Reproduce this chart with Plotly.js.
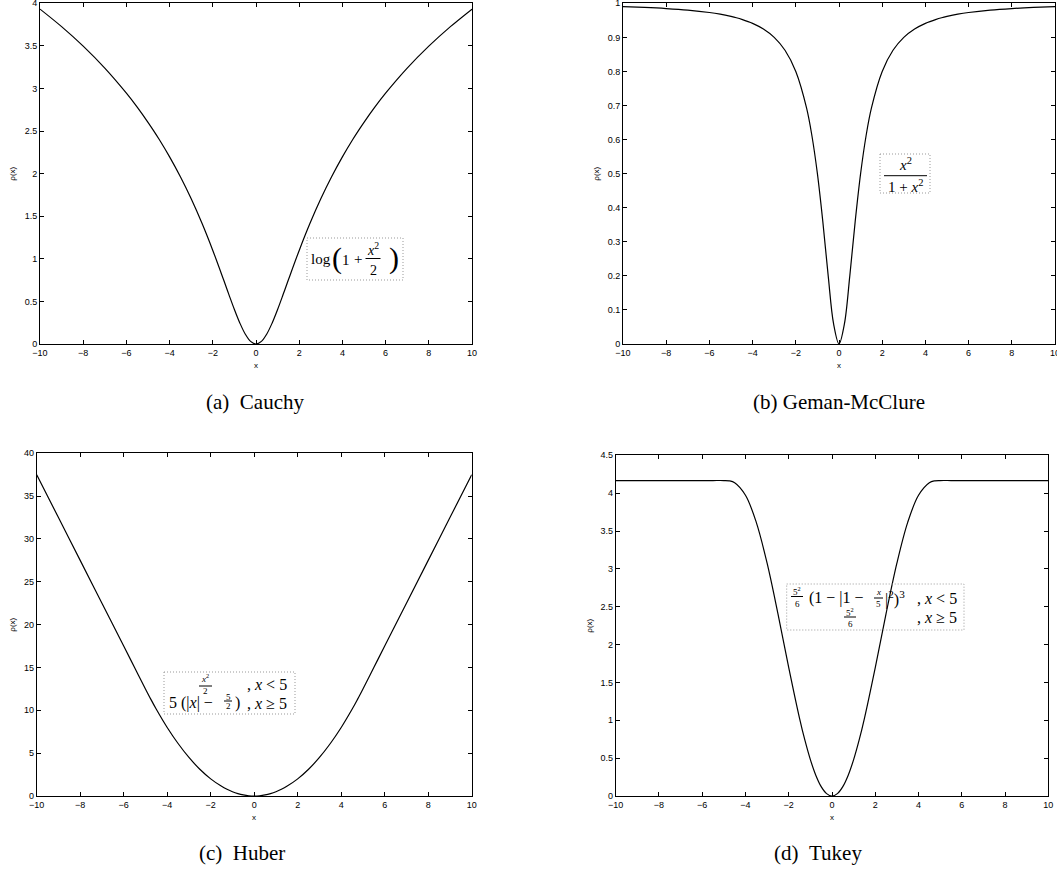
<!DOCTYPE html>
<html>
<head>
<meta charset="utf-8">
<script src="https://cdn.plot.ly/plotly-3.0.1.min.js"></script>
<style>html,body{margin:0;padding:0;background:#fff;}#chart{width:1057px;height:874px;}</style>
</head>
<body>
<div id="chart"></div>
<script>
// ---- data ----
const xGrid = [-10,-9,-8,-7,-6,-5.5,-5,-4.75,-4.5,-4,-3.5,-3,-2.5,-2,-1.5,-1.25,-1,-0.75,-0.5,-0.25,0,
               0.25,0.5,0.75,1,1.25,1.5,2,2.5,3,3.5,4,4.5,4.75,5,5.5,6,7,8,9,10];
const cauchyRho = [3.9318,3.7257,3.4965,3.2387,2.9444,2.7804,2.6027,2.508,2.4092,2.1972,1.9636,1.7047,1.4171,1.0986,0.7538,0.5773,0.4055,0.2478,0.1178,0.0308,0,
                   0.0308,0.1178,0.2478,0.4055,0.5773,0.7538,1.0986,1.4171,1.7047,1.9636,2.1972,2.4092,2.508,2.6027,2.7804,2.9444,3.2387,3.4965,3.7257,3.9318];
const gemanRho = [0.9901,0.9878,0.9846,0.98,0.973,0.968,0.9615,0.9576,0.9529,0.9412,0.9245,0.9,0.8621,0.8,0.6923,0.6098,0.5,0.36,0.2,0.0588,0,
                  0.0588,0.2,0.36,0.5,0.6098,0.6923,0.8,0.8621,0.9,0.9245,0.9412,0.9529,0.9576,0.9615,0.968,0.973,0.98,0.9846,0.9878,0.9901];
const huberRho = [37.5,32.5,27.5,22.5,17.5,15,12.5,11.2813,10.125,8,6.125,4.5,3.125,2,1.125,0.7813,0.5,0.2813,0.125,0.0313,0,
                  0.0313,0.125,0.2813,0.5,0.7813,1.125,2,3.125,4.5,6.125,8,10.125,11.2813,12.5,15,17.5,22.5,27.5,32.5,37.5];
const tukeyRho = [4.1667,4.1667,4.1667,4.1667,4.1667,4.1667,4.1667,4.1628,4.1381,3.9723,3.614,3.0744,2.4089,1.6971,1.0268,0.7334,0.4803,0.275,0.1238,0.0312,0,
                  0.0312,0.1238,0.275,0.4803,0.7334,1.0268,1.6971,2.4089,3.0744,3.614,3.9723,4.1381,4.1628,4.1667,4.1667,4.1667,4.1667,4.1667,4.1667,4.1667];
const xTicks = [-10,-8,-6,-4,-2,0,2,4,6,8,10];
const yRanges = [[0,4],[0,1],[0,40],[0,4.5]];
const yDticks = [0.5,0.1,5,0.5];
const captions = ['(a)\u2002Cauchy','(b) Geman-McClure','(c)\u2002Huber','(d)\u2002Tukey'];
const xTitle = 'x';
const yTitle = '\u03c1(x)';

// ---- layout helpers (pixel -> paper) ----
const W = 1057, H = 874;
const PX = p => p / W;
const PY = p => 1 - p / H;
const serif = '"Liberation Serif", "Times New Roman", serif';
const sans = '"Liberation Sans", Arial, Helvetica, sans-serif';

const annotations = [];
const shapes = [];
function T(px, py, text, size, anchor, family, extra) {
  annotations.push(Object.assign({
    xref: 'paper', yref: 'paper', x: PX(px), y: PY(py), text: text,
    showarrow: false, xanchor: anchor || 'center', yanchor: 'middle',
    font: {family: family || serif, size: size, color: '#000'}
  }, extra || {}));
}
function bar(x0, x1, py) {
  shapes.push({type: 'line', xref: 'paper', yref: 'paper', x0: PX(x0), x1: PX(x1), y0: PY(py), y1: PY(py),
               line: {color: '#000', width: 1}});
}
function box(x0, y0, x1, y1) {
  shapes.push({type: 'rect', xref: 'paper', yref: 'paper', x0: PX(x0), x1: PX(x1), y0: PY(y0), y1: PY(y1),
               line: {color: '#999', width: 1, dash: '1px,2px'}});
}

// panel pixel boxes [left, right, top, bottom]
const panels = [[40, 472, 3.3, 344], [623, 1055, 3.3, 344], [36.7, 471.7, 453.3, 796], [615.7, 1048.3, 455.3, 796]];
const seriesList = [cauchyRho, gemanRho, huberRho, tukeyRho];
const ylabelX = [13, 597, 13, 590];
const captionPos = [[255, 402], [839, 402], [242, 853], [818, 853]];

const data = [];
const layout = {
  width: W, height: H, margin: {l: 0, r: 0, t: 0, b: 0},
  paper_bgcolor: '#fff', plot_bgcolor: '#fff', showlegend: false,
  annotations: annotations, shapes: shapes
};

panels.forEach((p, i) => {
  const n = i === 0 ? '' : String(i + 1);
  data.push({x: xGrid, y: seriesList[i], type: 'scatter', mode: 'lines',
             line: {color: '#000', width: 1.2, shape: 'spline', smoothing: 1},
             xaxis: 'x' + n, yaxis: 'y' + n, hoverinfo: 'skip'});
  const common = {ticks: 'inside', ticklen: 4, tickcolor: '#000', tickwidth: 1,
                  showline: true, linecolor: '#000', linewidth: 1, mirror: 'ticks',
                  showgrid: false, zeroline: false, fixedrange: true,
                  ticklabeloverflow: 'allow',
                  tickfont: {family: sans, size: 9, color: '#000'}};
  layout['xaxis' + n] = Object.assign({}, common, {
    domain: [PX(p[0]), PX(p[1])], range: [-10, 10], tickvals: xTicks, anchor: 'y' + n});
  layout['yaxis' + n] = Object.assign({}, common, {
    domain: [PY(p[3]), PY(p[2])], range: yRanges[i], dtick: yDticks[i], tick0: 0, anchor: 'x' + n});
  // axis titles
  const cx = (p[0] + p[1]) / 2;
  T(cx, p[3] + 21, xTitle, 8, 'center', sans);
  T(ylabelX[i], (p[2] + p[3]) / 2, yTitle, 8, 'center', sans, {textangle: -90});
  // caption
  T(captionPos[i][0], captionPos[i][1], captions[i], 21, 'center', serif);
});

// ---- formula boxes ----
// (a) log(1 + x^2/2)
box(307, 238, 403, 280);
T(320.7, 259, 'log', 15);
T(336.5, 258, '(', 30);
T(346, 260, '1', 15);
T(357.5, 259, '+', 15);
T(373, 249, '<i>x</i><sup>2</sup>', 14);
bar(365.5, 380.5, 258.5);
T(373, 270, '2', 14);
T(393.5, 258, ')', 30);

// (b) x^2 / (1 + x^2)
box(880, 154, 930, 193);
T(905, 164, '<i>x</i><sup>2</sup>', 15);
bar(884, 927, 175.7);
T(905, 186, '1 + <i>x</i><sup>2</sup>', 15);

// (c) Huber
box(164, 672, 295, 714);
T(205, 678, '<i>x</i><sup>2</sup>', 9);
bar(199, 212, 686);
T(205, 691, '2', 9);
T(245, 684, ', <i>x</i> < 5', 16, 'left');
T(167, 703, '5 (|<i>x</i>| \u2212', 16, 'left');
T(228, 697, '5', 9);
bar(224, 232, 701);
T(228, 706, '2', 9);
T(233, 703, ')', 16, 'left');
T(245, 703, ', <i>x</i> \u2265 5', 16, 'left');

// (d) Tukey
box(786.7, 584, 964, 630);
T(797, 590.5, '5<sup>2</sup>', 9);
bar(791, 803, 596.5);
T(797, 604, '6', 9);
T(807, 598, '(1 \u2212 |1 \u2212', 16, 'left');
T(878.3, 592, '<i>x</i>', 9);
bar(874, 883, 598);
T(878.3, 604, '5', 9);
T(883, 598, '|<sup>2</sup>)<sup>3</sup>', 16, 'left');
T(915, 598, ', <i>x</i> < 5', 16, 'left');
T(850, 612, '5<sup>2</sup>', 9);
bar(844, 856, 617);
T(850, 623.5, '6', 9);
T(915, 617, ', <i>x</i> \u2265 5', 16, 'left');

Plotly.newPlot('chart', data, layout, {displayModeBar: false, staticPlot: true});
</script>
</body>
</html>
